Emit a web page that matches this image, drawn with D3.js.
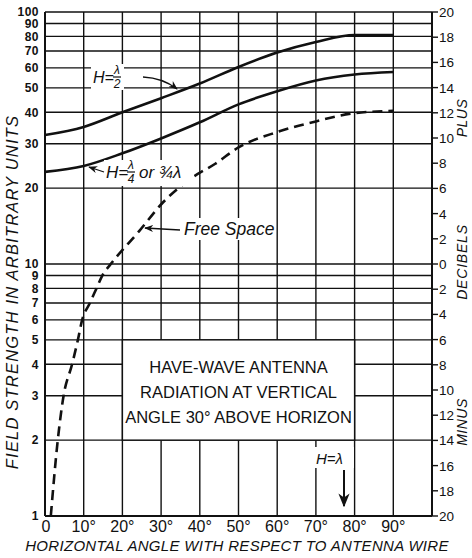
<!DOCTYPE html>
<html>
<head>
<meta charset="utf-8">
<script src="https://d3js.org/d3.v7.min.js"></script>
<style>
  body { margin: 0; background: #fff; }
  text { fill: #111; font-family: "Liberation Sans", Arial, sans-serif; }
</style>
</head>
<body>
<div id="chart"></div>
<script>
// data
var angles = [0, 10, 20, 30, 40, 50, 60, 70, 80, 90];
var halfWave = [32.5, 35, 40, 45.5, 52, 60.5, 69, 76, 81, 81];          // H = λ/2
var quarterWave = [23.2, 24.5, 27.5, 31.5, 36.5, 43, 48.5, 53.5, 56.5, 57.8]; // H = λ/4 or 3/4λ
var freeAngles = [1.5, 3.3, 4.8, 7, 8.5, 9.6, 11.6, 13.3, 14.8, 17, 24.5, 30.4, 38, 44, 50, 60, 70, 80, 90];
var freeSpace = [1, 2, 3, 4, 5, 6, 7, 8, 9, 10, 13.6, 17.5, 22, 25, 29, 33.4, 36.8, 39.7, 40.5];

var xTicks = [0, 10, 20, 30, 40, 50, 60, 70, 80, 90];
var yTicks = [1, 2, 3, 4, 5, 6, 7, 8, 9, 10, 20, 30, 40, 50, 60, 70, 80, 90, 100];
var dbTicks = [-20, -18, -16, -14, -12, -10, -8, -6, -4, -2, 0, 2, 4, 6, 8, 10, 12, 14, 16, 18, 20];
var boxLines = ["HAVE-WAVE ANTENNA", "RADIATION AT VERTICAL", "ANGLE 30\u00b0 ABOVE HORIZON"];

var W = 472, H = 558;
var svg = d3.select("#chart").append("svg").attr("width", W).attr("height", H);

var x = d3.scaleLinear().domain([0, 100]).range([45, 432]);
var y = d3.scaleLog().domain([1, 100]).range([516, 12]);
var db = d3.scaleLinear().domain([-20, 20]).range([y(1), y(100)]);

svg.append("defs").append("marker")
    .attr("id", "arr").attr("viewBox", "0 0 10 10").attr("refX", 9).attr("refY", 5)
    .attr("markerWidth", 7).attr("markerHeight", 7).attr("orient", "auto-start-reverse")
  .append("path").attr("d", "M0,1 L10,5 L0,9 L3,5 Z").attr("fill", "#111");

// grid
var grid = svg.append("g").attr("stroke", "#111").attr("stroke-width", 1.4);
grid.selectAll(".v").data(d3.range(0, 101, 10)).enter().append("line")
    .attr("x1", d => x(d)).attr("x2", d => x(d))
    .attr("y1", y(1)).attr("y2", y(100));
grid.selectAll(".h").data(yTicks.filter(d => d >= 2)).enter().append("line")
    .attr("x1", x(0)).attr("x2", x(100))
    .attr("y1", d => y(d)).attr("y2", d => y(d));
grid.append("line").attr("x1", x(0)).attr("x2", x(100)).attr("y1", y(1)).attr("y2", y(1)).attr("stroke-width", 2);
grid.append("line").attr("x1", x(0)).attr("x2", x(0)).attr("y1", y(1)).attr("y2", y(100)).attr("stroke-width", 2);
grid.append("line").attr("x1", x(100)).attr("x2", x(100)).attr("y1", y(1)).attr("y2", y(100)).attr("stroke-width", 2);

// left axis labels
svg.append("g").selectAll("text").data(yTicks).enter().append("text")
    .attr("x", 39).attr("y", d => y(d) + 4.3)
    .attr("text-anchor", "end").attr("font-size", 12).attr("font-weight", "bold")
    .attr("letter-spacing", 0.5)
    .text(d => d);

// bottom axis labels
svg.append("g").selectAll("text").data(xTicks).enter().append("text")
    .attr("x", d => x(d) + (d === 0 ? 1 : 0)).attr("y", 532)
    .attr("text-anchor", "middle").attr("font-size", 16)
    .text(d => d === 0 ? "0" : d + "\u00b0");

// right decibel axis
var ra = svg.append("g");
ra.selectAll("line").data(dbTicks).enter().append("line")
    .attr("x1", x(100)).attr("x2", x(100) + 6)
    .attr("y1", d => db(d)).attr("y2", d => db(d))
    .attr("stroke", "#111").attr("stroke-width", 1.4);
ra.selectAll("text").data(dbTicks).enter().append("text")
    .attr("x", x(100) + 7).attr("y", d => db(d) + 5)
    .attr("font-size", 13.5)
    .text(d => Math.abs(d));

function vtext(cx, cy, s, size, ls) {
  svg.append("text").attr("transform", "translate(" + cx + "," + cy + ") rotate(-90)")
      .attr("text-anchor", "middle").attr("font-size", size).attr("font-style", "italic")
      .attr("letter-spacing", ls || 0)
      .text(s);
}
vtext(18, 292, "FIELD STRENGTH IN ARBITRARY UNITS", 16.5, 1.2);
vtext(467, 118, "PLUS", 14, 0.5);
vtext(467, 262, "DECIBELS", 14, 0.8);
vtext(467, 422, "MINUS", 14, 0.5);

svg.append("text").attr("x", 237).attr("y", 551).attr("text-anchor", "middle")
    .attr("font-size", 15).attr("font-style", "italic").attr("letter-spacing", 0.3)
    .text("HORIZONTAL ANGLE WITH RESPECT TO ANTENNA WIRE");

// title box
svg.append("rect").attr("x", x(20)).attr("y", y(5))
    .attr("width", x(80) - x(20)).attr("height", y(2) - y(5))
    .attr("fill", "#fff").attr("stroke", "#111").attr("stroke-width", 1.4);
svg.append("g").selectAll("text").data(boxLines).enter().append("text")
    .attr("x", (x(20) + x(80)) / 2).attr("y", (d, i) => 373 + i * 25)
    .attr("text-anchor", "middle").attr("font-size", 16.5)
    .text(d => d);

// curves
var line = d3.line().curve(d3.curveMonotoneX);
svg.append("path").attr("d", line(angles.map((a, i) => [x(a), y(halfWave[i])])))
    .attr("fill", "none").attr("stroke", "#111").attr("stroke-width", 2.6);
svg.append("path").attr("d", line(angles.map((a, i) => [x(a), y(quarterWave[i])])))
    .attr("fill", "none").attr("stroke", "#111").attr("stroke-width", 2.6);
svg.append("path").attr("d", line(freeAngles.map((a, i) => [x(a), y(freeSpace[i])])))
    .attr("fill", "none").attr("stroke", "#111").attr("stroke-width", 2.6)
    .attr("stroke-dasharray", "10,6");

// annotations
function frac(xc, yc, top, bot) {
  svg.append("text").attr("x", xc).attr("y", yc - 3).attr("text-anchor", "middle")
      .attr("font-size", 12).attr("font-style", "italic").text(top);
  svg.append("line").attr("x1", xc - 4).attr("x2", xc + 4).attr("y1", yc).attr("y2", yc)
      .attr("stroke", "#111").attr("stroke-width", 1.2);
  svg.append("text").attr("x", xc).attr("y", yc + 11).attr("text-anchor", "middle")
      .attr("font-size", 12).attr("font-style", "italic").text(bot);
}
function label(px, py, s, size) {
  svg.append("text").attr("x", px).attr("y", py).attr("font-size", size)
      .attr("font-style", "italic").text(s);
}

// H = λ/2
svg.append("rect").attr("x", 91).attr("y", 64).attr("width", 33).attr("height", 26).attr("fill", "#fff");
label(93, 83, "H=", 16);
frac(117, 77, "\u03bb", "2");
svg.append("path").attr("d", "M143,77 Q163,78 177,89")
    .attr("fill", "none").attr("stroke", "#111").attr("stroke-width", 1.3).attr("marker-end", "url(#arr)");

// H = λ/4 or 3/4 λ
svg.append("rect").attr("x", 104).attr("y", 160).attr("width", 90).attr("height", 26).attr("fill", "#fff");
svg.append("line").attr("x1", 104).attr("y1", 172).attr("x2", 89).attr("y2", 167)
    .attr("stroke", "#111").attr("stroke-width", 1.3).attr("marker-end", "url(#arr)");
label(106, 178, "H=", 17);
frac(131, 172, "\u03bb", "4");
label(139, 178, "or \u00be\u03bb", 17);

// Free Space
svg.append("rect").attr("x", 182).attr("y", 218).attr("width", 80).attr("height", 22).attr("fill", "#fff");
svg.append("line").attr("x1", 180).attr("y1", 230).attr("x2", 145).attr("y2", 228)
    .attr("stroke", "#111").attr("stroke-width", 1.3).attr("marker-end", "url(#arr)");
label(184, 235, "Free Space", 17.5);

// H = λ
svg.append("rect").attr("x", 314).attr("y", 447).attr("width", 40).attr("height", 21).attr("fill", "#fff");
label(316, 464, "H=\u03bb", 15);
svg.append("line").attr("x1", 344).attr("y1", 470).attr("x2", 344).attr("y2", 506)
    .attr("stroke", "#111").attr("stroke-width", 2).attr("marker-end", "url(#arr)");
</script>
</body>
</html>
